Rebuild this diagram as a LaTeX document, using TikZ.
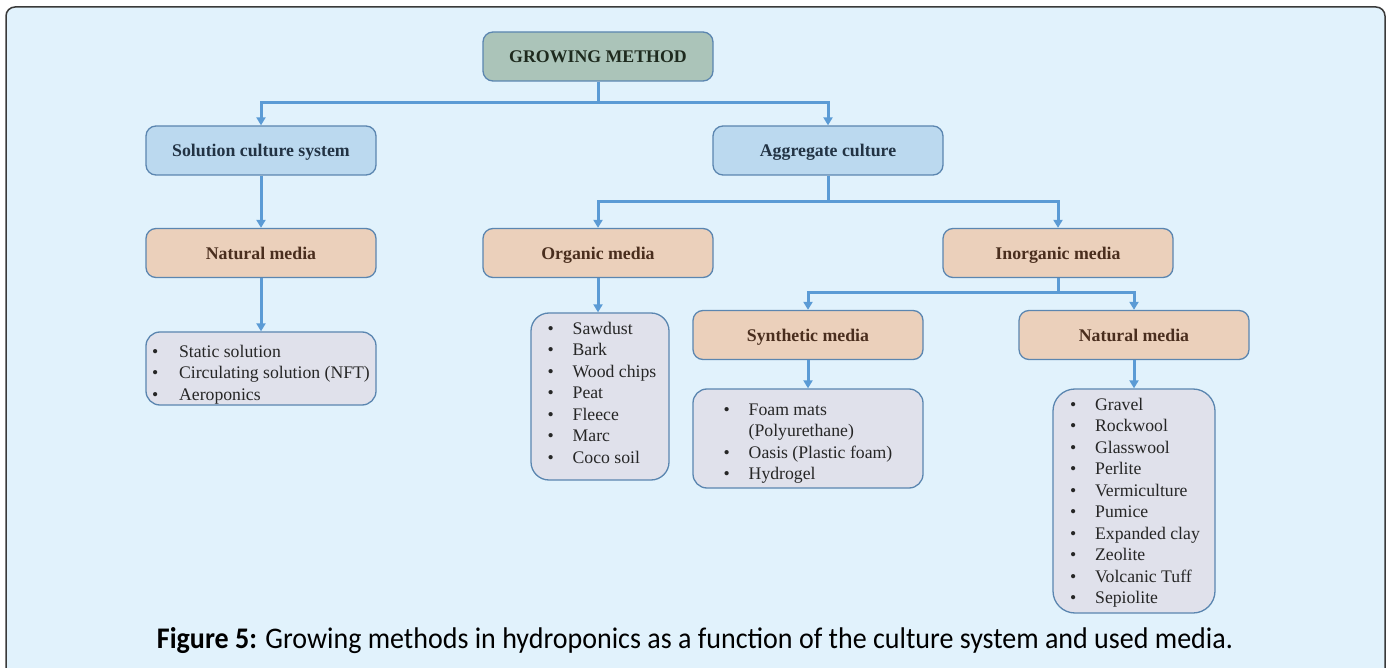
\documentclass[tikz,border=0pt]{standalone}
\usepackage{fontspec}
\setmainfont{Liberation Serif}
\newfontfamily\capfont{Carlito}
\usetikzlibrary{arrows.meta}
\definecolor{bgblue}{HTML}{E1F2FC}
\definecolor{frame}{HTML}{3A3A3A}
\definecolor{topfill}{HTML}{ABC4B9}
\definecolor{bluefill}{HTML}{BBD9EF}
\definecolor{peachfill}{HTML}{EBD0BB}
\definecolor{listfill}{HTML}{E0E1EB}
\definecolor{boxline}{HTML}{5B86B0}
\definecolor{conn}{HTML}{5B9BD5}
\definecolor{navytext}{HTML}{223344}
\definecolor{browntext}{HTML}{4A2E1E}
\definecolor{toptext}{HTML}{1E2A1E}
\tikzset{
  x=1pt, y=-1pt,
  basebox/.style={draw=boxline, line width=1.3pt, rounded corners=10pt,
    minimum width=230pt, minimum height=49pt, inner sep=0pt,
    text height=15pt, text depth=2pt,
    font=\fontsize{17.8}{21}\selectfont\bfseries},
  topbox/.style={basebox, fill=topfill, text=toptext},
  bluebox/.style={basebox, fill=bluefill, text=navytext},
  peachbox/.style={basebox, fill=peachfill, text=browntext},
  listbox/.style={draw=boxline, line width=1.3pt, fill=listfill, rounded corners=14pt,
    inner sep=0pt},
  listtext/.style={inner sep=0pt, align=left, text=black!85,
    font=\fontsize{17.7}{21.5}\selectfont},
  link/.style={draw=conn, line width=3pt},
  arr/.style={link, -{Triangle[width=9pt,length=8pt]}},
}
\newcommand{\bul}{\makebox[25pt][l]{\textbullet}}
\newcommand{\bulw}{\makebox[27pt][l]{\textbullet}}
\begin{document}
\begin{tikzpicture}
\useasboundingbox (0,0) rectangle (1387,668);
\clip (0,0) rectangle (1387,668);
\draw[frame, line width=1.5pt, fill=bgblue, rounded corners=9pt] (6,7) rectangle (1385,700);

% main boxes
\node[topbox]   (gm)  at (598,56.5)  {GROWING METHOD};
\node[bluebox]  (sol) at (261,150.5) {Solution culture system};
\node[bluebox]  (agg) at (828,150.5) {Aggregate culture};
\node[peachbox] (nml) at (261,253)   {Natural media};
\node[peachbox] (org) at (598,253)   {Organic media};
\node[peachbox] (ino) at (1058,253)  {Inorganic media};
\node[peachbox] (syn) at (808,335)   {Synthetic media};
\node[peachbox] (nmr) at (1134,335)  {Natural media};

% list boxes
\node[listbox, minimum width=230pt, minimum height=73pt] (l1) at (261,368.5) {};
\node[listbox, minimum width=138pt, minimum height=167pt, rounded corners=18pt] (l2) at (600,396.5) {};
\node[listbox, minimum width=230pt, minimum height=99pt] (l3) at (808,438.5) {};
\node[listbox, minimum width=162pt, minimum height=224pt, rounded corners=22pt] (l4) at (1134,501) {};

% list texts
\node[listtext] (t1) at (261,374.5)
  {\bulw Static solution\\ \bulw Circulating solution (NFT)\\ \bulw Aeroponics};
\node[listtext] (t2) at (602,392.5)
  {\bul Sawdust\\ \bul Bark\\ \bul Wood chips\\ \bul Peat\\ \bul Fleece\\ \bul Marc\\ \bul Coco soil};
\node[listtext] (t3) at (808,443.5)
  {\bul Foam mats\\ \hspace*{25pt}(Polyurethane)\\ \bul Oasis (Plastic foam)\\ \bul Hydrogel};
\node[listtext] (t4) at (1135,502.5)
  {\bul Gravel\\ \bul Rockwool\\ \bul Glasswool\\ \bul Perlite\\ \bul Vermiculture\\ \bul Pumice\\ \bul Expanded clay\\ \bul Zeolite\\ \bul Volcanic Tuff\\ \bul Sepiolite};

% connectors
\coordinate (j1) at (598,103);
\draw[link] (gm.south) -- (j1);
\draw[arr] (j1) -| (sol.north);
\draw[arr] (j1) -| (agg.north);
\coordinate (j2) at (828,202);
\draw[link] (agg.south) -- (j2);
\draw[arr] (j2) -| (org.north);
\draw[arr] (j2) -| (ino.north);
\coordinate (j3) at (1058,293);
\draw[link] (ino.south) -- (j3);
\draw[arr] (j3) -| (syn.north);
\draw[arr] (j3) -| (nmr.north);
\draw[arr] (sol.south) -- (nml.north);
\draw[arr] (nml.south) -- (l1.north);
\draw[arr] (org.south) -- (org.south |- l2.north);
\draw[arr] (syn.south) -- (l3.north);
\draw[arr] (nmr.south) -- (l4.north);

% caption
\node[anchor=base, inner sep=0pt] (cap) at (695,648)
  {\resizebox{1076pt}{21pt}{\capfont\fontsize{30}{34}\selectfont\textbf{Figure 5:} Growing methods in hydroponics as a function of the culture system and used media.}};
\end{tikzpicture}
\end{document}
